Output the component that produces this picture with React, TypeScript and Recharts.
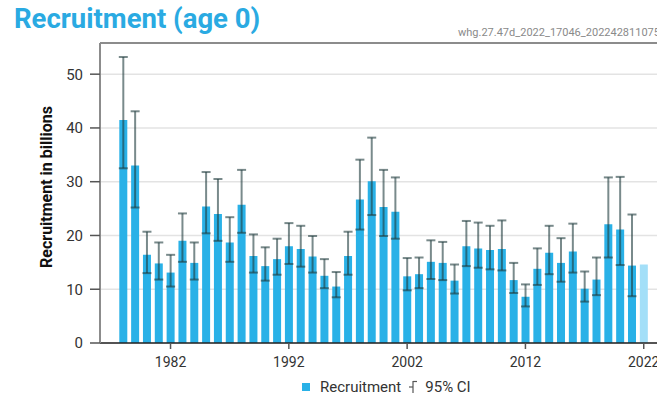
import React from 'react';
import { BarChart, Bar, XAxis, YAxis, CartesianGrid, ErrorBar, Cell, ReferenceLine } from 'recharts';

const years = [
  1978, 1979, 1980, 1981, 1982, 1983, 1984, 1985, 1986, 1987,
  1988, 1989, 1990, 1991, 1992, 1993, 1994, 1995, 1996, 1997,
  1998, 1999, 2000, 2001, 2002, 2003, 2004, 2005, 2006, 2007,
  2008, 2009, 2010, 2011, 2012, 2013, 2014, 2015, 2016, 2017,
  2018, 2019, 2020, 2021, 2022,
];

const recruitment = [
  41.5, 33.0, 16.4, 14.8, 13.1, 19.0, 14.9, 25.4, 24.0, 18.7,
  25.7, 16.2, 14.3, 15.6, 18.0, 17.5, 16.1, 12.5, 10.5, 16.2,
  26.7, 30.1, 25.3, 24.4, 12.4, 12.8, 15.1, 14.9, 11.6, 18.0,
  17.6, 17.3, 17.5, 11.7, 8.6, 13.8, 16.8, 14.9, 17.0, 10.1,
  11.8, 22.1, 21.1, 14.4, 14.6,
];

const ciLow = [
  32.5, 25.2, 13.0, 11.8, 10.5, 15.1, 11.8, 20.4, 19.0, 15.1,
  20.5, 13.1, 11.6, 12.7, 14.7, 14.2, 13.1, 10.2, 8.5, 12.7,
  21.1, 23.8, 19.9, 19.4, 9.8, 10.2, 11.9, 11.7, 9.2, 14.3,
  14.0, 13.7, 13.5, 9.3, 6.8, 10.8, 12.8, 11.4, 13.1, 7.7,
  8.9, 15.9, 14.5, 8.7, null,
];

const ciHigh = [
  53.2, 43.1, 20.7, 18.7, 16.4, 24.1, 18.7, 31.8, 30.5, 23.4,
  32.2, 20.2, 17.8, 19.4, 22.3, 21.8, 19.9, 15.6, 13.2, 20.7,
  34.1, 38.2, 32.2, 30.8, 15.8, 15.9, 19.1, 18.8, 14.6, 22.7,
  22.4, 21.8, 22.8, 14.9, 10.9, 17.6, 21.8, 19.5, 22.2, 13.3,
  15.9, 30.8, 30.9, 23.9, null,
];

const yTicks = [0, 10, 20, 30, 40, 50];
const labelledYears = [1982, 1992, 2002, 2012, 2022];
const Y_MAX = 55.8;

const BLUE = '#29b1e7';
const LIGHT_BLUE = '#a3dff8';
const FONT = 'Roboto, "Noto Sans", sans-serif';

const data = years.map((year, i) => {
  const lo = ciLow[i];
  const hi = ciHigh[i];
  return {
    year,
    value: recruitment[i],
    err: lo == null || hi == null ? null : [recruitment[i] - lo, hi - recruitment[i]],
    provisional: year === 2022,
  };
});

const YearTick = (props: any) => {
  const { x, y, payload } = props;
  if (!labelledYears.includes(payload.value)) return null;
  return (
    <g>
      <line x1={x} x2={x} y1={y} y2={y + 6} stroke="#555" strokeWidth={1.5} />
      <text x={x} y={y + 24} textAnchor="middle" fill="#333" fontSize={14} fontFamily={FONT}>
        {payload.value}
      </text>
    </g>
  );
};

export default function App() {
  return (
    <div
      style={{
        position: 'absolute',
        left: 0,
        top: 0,
        width: 657,
        height: 400,
        overflow: 'hidden',
        background: '#fff',
        fontFamily: FONT,
      }}
    >
      <div
        style={{
          position: 'absolute',
          left: 14,
          top: 2,
          fontSize: 27.5,
          fontWeight: 700,
          color: '#2aaae2',
          whiteSpace: 'nowrap',
        }}
      >
        Recruitment (age 0)
      </div>
      <div
        style={{
          position: 'absolute',
          left: 458,
          top: 26,
          fontSize: 11,
          color: '#8a8a8a',
          whiteSpace: 'nowrap',
        }}
      >
        whg.27.47d_2022_17046_202242811075
      </div>
      <div
        style={{
          position: 'absolute',
          left: 46,
          top: 187,
          transform: 'translate(-50%, -50%) rotate(-90deg)',
          fontSize: 16,
          fontWeight: 700,
          color: '#111',
          whiteSpace: 'nowrap',
        }}
      >
        Recruitment in billions
      </div>

      <BarChart
        width={657}
        height={400}
        data={data}
        margin={{ top: 43, right: 0, bottom: 27, left: 0 }}
        barSize={8}
      >
        <CartesianGrid vertical={false} stroke="#e3e3e3" strokeWidth={1.5} />
        <ReferenceLine y={Y_MAX} stroke="#8c8c8c" strokeWidth={2} />
        <XAxis
          dataKey="year"
          interval={0}
          height={30}
          padding={{ left: 17.3, right: 7.35 }}
          tickLine={false}
          tickSize={0}
          tickMargin={0}
          tick={<YearTick />}
          axisLine={{ stroke: '#222', strokeWidth: 1.5 }}
        />
        <YAxis
          width={100}
          domain={[0, Y_MAX]}
          ticks={yTicks}
          tickSize={10}
          tickMargin={7}
          tick={{ fill: '#333', fontSize: 15, fontFamily: FONT }}
          tickLine={{ stroke: '#555', strokeWidth: 1.5 }}
          axisLine={{ stroke: '#8c8c8c', strokeWidth: 2 }}
          allowDataOverflow
        />
        <Bar dataKey="value" fill={BLUE} isAnimationActive={false}>
          {data.map((d) => (
            <Cell key={d.year} fill={d.provisional ? LIGHT_BLUE : BLUE} />
          ))}
          <ErrorBar
            dataKey="err"
            width={4.5}
            strokeWidth={2}
            stroke="#203c3e"
            strokeOpacity={0.6}
            isAnimationActive={false}
          />
        </Bar>
      </BarChart>

      <div
        style={{
          position: 'absolute',
          left: 302,
          top: 378,
          display: 'flex',
          alignItems: 'center',
          fontSize: 15,
          color: '#333',
          whiteSpace: 'nowrap',
        }}
      >
        <span style={{ width: 8, height: 8, background: BLUE, display: 'inline-block', marginRight: 10 }} />
        <span>Recruitment</span>
        <svg width={12} height={14} style={{ margin: '0 6px 0 6px' }}>
          <line x1={6} x2={6} y1={1} y2={13} stroke="#555" strokeWidth={1.2} />
          <line x1={6} x2={10} y1={1.5} y2={1.5} stroke="#555" strokeWidth={1.2} />
          <line x1={2} x2={6} y1={7} y2={7} stroke="#555" strokeWidth={1.2} />
        </svg>
        <span>95% CI</span>
      </div>
    </div>
  );
}
